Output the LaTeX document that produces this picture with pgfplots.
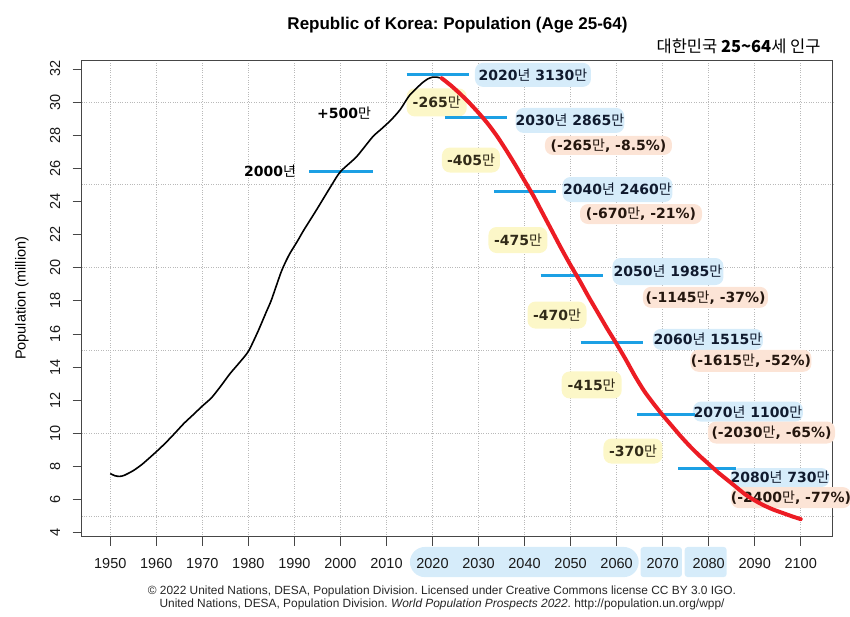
\documentclass[border=0pt]{standalone}
\usepackage{pgfplots}
\pgfplotsset{compat=1.18}
\usepackage{fontspec}
\setmainfont{Liberation Sans}
\newfontfamily\kr{Noto Sans CJK KR}
\newfontfamily\dv{DejaVu Sans}
\newcommand\ko[1]{{\kr\mdseries #1}}
\frenchspacing
\definecolor{lineblue}{RGB}{28,160,228}
\definecolor{boxblue}{RGB}{214,236,250}
\definecolor{boxpeach}{RGB}{252,228,214}
\definecolor{boxyellow}{RGB}{252,247,200}
\definecolor{navy}{RGB}{16,26,46}
\definecolor{olivetext}{RGB}{48,42,24}
\definecolor{browntext}{RGB}{36,22,14}
\definecolor{curvered}{RGB}{236,28,36}
\definecolor{gridgray}{RGB}{185,185,185}
\definecolor{axisgray}{RGB}{70,70,70}
\tikzset{
  lab/.style={inner sep=0pt, rounded corners=8bp, font=\dv\bfseries\fontsize{14bp}{16bp}\selectfont, anchor=center},
  bb/.style={lab, fill=boxblue, text=navy},
  pb/.style={lab, fill=boxpeach, text=browntext},
  yb/.style={lab, fill=boxyellow, text=olivetext},
  bl/.style={font=\dv\bfseries\fontsize{14bp}{16bp}\selectfont, text=black, anchor=center},
}
\pgfplotstableread{
year pop
1950 7.57
1951 7.44
1952 7.40
1953 7.46
1955 7.75
1957 8.15
1960 8.89
1962 9.42
1964 10.00
1966 10.60
1968 11.12
1970 11.65
1972 12.15
1974 12.85
1976 13.60
1978 14.25
1980 14.95
1982 16.10
1984 17.40
1985 18.05
1987 19.65
1988 20.30
1989 20.85
1990.8 21.67
1992 22.25
1994.8 23.49
1998 24.95
2000 25.80
2003.5 26.70
2007 27.90
2009 28.40
2011 28.92
2013 29.55
2015 30.40
2017.7 31.14
2019 31.40
2020 31.50
2021 31.50
2022 31.44
}\past
\pgfplotstableread{
year pop
2022 31.44
2024 31.00
2026 30.50
2028 29.95
2030 29.35
2032 28.70
2034 27.95
2036 27.10
2038 26.20
2040 25.25
2042 24.30
2044 23.25
2046 22.20
2048 21.15
2050 20.15
2052 19.20
2054 18.20
2056 17.25
2058 16.30
2060 15.40
2062 14.45
2064 13.45
2066 12.55
2068 11.80
2070 11.10
2072 10.45
2074 9.80
2076 9.20
2078 8.65
2080 8.15
2082 7.65
2084 7.20
2086 6.75
2088 6.30
2090 5.95
2092 5.65
2094 5.40
2096 5.20
2098 5.00
2100 4.82
}\future
\begin{document}
\begin{tikzpicture}[x=1bp,y=1bp]
\begin{axis}[
  set layers,
  at={(81.7bp,80.3bp)}, anchor=south west,
  width=751bp, height=476.7bp, scale only axis,
  xmin=1943.79, xmax=2106.95, ymin=3.76, ymax=32.54,
  clip=false,
  xtick={1950,1960,...,2100},
  ytick={4,6,...,32},
  xtick pos=left, ytick pos=left,
  tick align=outside,
  major tick length=9bp,
  tick style={axisgray, line width=0.8bp},
  axis line style={axisgray, line width=0.9bp},
  xmajorgrids,
  grid style={gridgray, dotted, line width=0.8bp},
  extra y ticks={5,10,...,30},
  extra y tick labels={},
  extra y tick style={ymajorgrids=true, major tick length=0pt},
  /pgf/number format/1000 sep={},
  /pgf/number format/assume math mode=true,
  xticklabel style={font=\fontsize{14.5bp}{16bp}\selectfont, text=black!90, inner ysep=12.8bp},
  yticklabel style={font=\fontsize{14.5bp}{16bp}\selectfont, text=black!90, rotate=90, anchor=south, inner ysep=12.3bp},
  ylabel={Population (million)},
  every axis y label/.style={at={(axis description cs:-0.0795,0.5)}, rotate=90, anchor=center, font=\fontsize{14.5bp}{16bp}\selectfont},
]
\begin{pgfonlayer}{axis background}
\fill[boxblue, rounded corners=15bp] (axis cs:2015.1,3.14) rectangle (axis cs:2064.8,1.32);
\fill[boxblue, rounded corners=3bp] (axis cs:2065.2,3.14) rectangle (axis cs:2074.2,1.32);
\fill[boxblue, rounded corners=3bp] (axis cs:2074.8,3.14) rectangle (axis cs:2083.9,1.32);
\end{pgfonlayer}
% annotation boxes
\node[bb, minimum width=116bp, minimum height=24bp] at (axis cs:2041.83,31.64) {2020\ko{년} 3130\ko{만}};
\node[bb, minimum width=107bp, minimum height=25bp] at (axis cs:2049.87,28.89) {2030\ko{년} 2865\ko{만}};
\node[pb, minimum width=127bp, minimum height=19bp] at (axis cs:2058.23,27.38) {(-265\ko{만}, -8.5\%)};
\node[bb, minimum width=110bp, minimum height=25bp] at (axis cs:2060.19,24.72) {2040\ko{년} 2460\ko{만}};
\node[pb, minimum width=122bp, minimum height=20bp] at (axis cs:2065.3,23.24) {(-670\ko{만}, -21\%)};
\node[bb, minimum width=111bp, minimum height=27bp] at (axis cs:2071.16,19.77) {2050\ko{년} 1985\ko{만}};
\node[pb, minimum width=125bp, minimum height=21bp] at (axis cs:2079.31,18.21) {(-1145\ko{만}, -37\%)};
\node[bb, minimum width=110bp, minimum height=21bp] at (axis cs:2079.85,15.67) {2060\ko{년} 1515\ko{만}};
\node[pb, minimum width=121bp, minimum height=22bp] at (axis cs:2089.19,14.38) {(-1615\ko{만}, -52\%)};
\node[bb, minimum width=110bp, minimum height=20bp] at (axis cs:2088.54,11.31) {2070\ko{년} 1100\ko{만}};
\node[pb, minimum width=127bp, minimum height=22bp] at (axis cs:2093.65,10.05) {(-2030\ko{만}, -65\%)};
\node[bb, minimum width=96bp, minimum height=19bp] at (axis cs:2095.49,7.33) {2080\ko{년} 730\ko{만}};
\node[pb, minimum width=118bp, minimum height=21bp] at (axis cs:2097.88,6.12) {(-2400\ko{만}, -77\%)};
\node[yb, minimum width=60bp, minimum height=28bp] at (axis cs:2020.91,29.98) {-265\ko{만}};
\node[yb, minimum width=58bp, minimum height=25bp] at (axis cs:2028.36,26.50) {-405\ko{만}};
\node[yb, minimum width=59bp, minimum height=26bp] at (axis cs:2038.57,21.67) {-475\ko{만}};
\node[yb, minimum width=59bp, minimum height=27bp] at (axis cs:2047.05,17.14) {-470\ko{만}};
\node[yb, minimum width=60bp, minimum height=27bp] at (axis cs:2054.58,12.92) {-415\ko{만}};
\node[yb, minimum width=59bp, minimum height=25bp] at (axis cs:2063.56,8.93) {-370\ko{만}};
\node[bl] at (axis cs:2000.77,29.34) {+500\ko{만}};
\node[bl] at (axis cs:1984.69,25.86) {2000\ko{년}};
% blue marker lines
\addplot[lineblue, line width=3bp, forget plot] coordinates {(1993.2,25.80) (2007.0,25.80)};
\addplot[lineblue, line width=3bp, forget plot] coordinates {(2014.4,31.64) (2028.0,31.64)};
\addplot[lineblue, line width=3bp, forget plot] coordinates {(2022.7,29.08) (2036.2,29.08)};
\addplot[lineblue, line width=3bp, forget plot] coordinates {(2033.4,24.63) (2046.8,24.63)};
\addplot[lineblue, line width=3bp, forget plot] coordinates {(2043.5,19.50) (2057.1,19.50)};
\addplot[lineblue, line width=3bp, forget plot] coordinates {(2052.2,15.47) (2065.8,15.47)};
\addplot[lineblue, line width=3bp, forget plot] coordinates {(2064.4,11.11) (2077.0,11.11)};
\addplot[lineblue, line width=3bp, forget plot] coordinates {(2073.4,7.89) (2085.9,7.89)};
% curves
\addplot[black, line width=1.6bp, smooth, tension=0.4] table[x=year,y=pop] {\past};
\addplot[curvered, line width=4bp, smooth, tension=0.4, line cap=round] table[x=year,y=pop] {\future};
\end{axis}
\node[font=\bfseries\fontsize{17bp}{20bp}\selectfont] at (457.5,592) {Republic of Korea: Population (Age 25-64)};
\node[anchor=east, font=\kr\fontsize{16.5bp}{19bp}\selectfont] at (824,570.3) {대한민국 {\bfseries 25\textasciitilde 64}세 인구};
\node[font=\fontsize{11.9bp}{13bp}\selectfont, text=black!85] at (442,26) {© 2022 United Nations, DESA, Population Division. Licensed under Creative Commons license CC BY 3.0 IGO.};
\node[font=\fontsize{11.9bp}{13bp}\selectfont, text=black!85] at (442,13) {United Nations, DESA, Population Division. \textit{World Population Prospects 2022}. http://population.un.org/wpp/};
\pgfresetboundingbox
\useasboundingbox (0,0) rectangle (850,617);
\end{tikzpicture}
\end{document}
